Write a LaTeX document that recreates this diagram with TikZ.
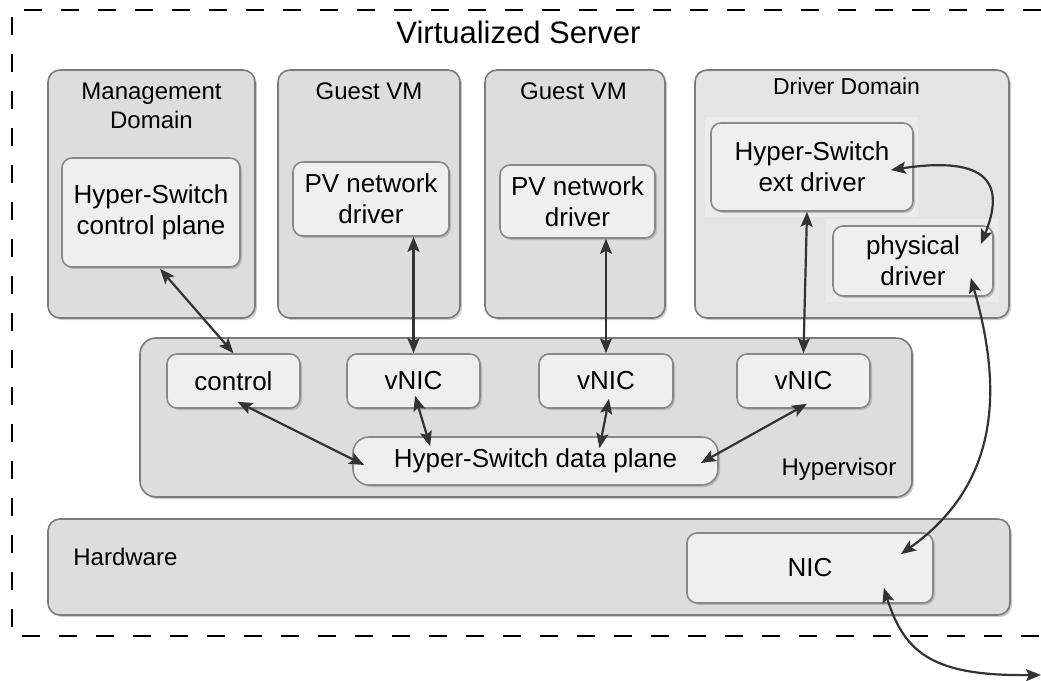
\documentclass[tikz,border=0pt]{standalone}
\usepackage{fontspec}
\setmainfont{Liberation Sans}
\usetikzlibrary{arrows.meta,shadows}

\definecolor{boxfill}{HTML}{DDDDDD}
\definecolor{drvfill}{HTML}{E4E4E4}
\definecolor{partfill}{HTML}{EFEFEF}
\definecolor{edge}{HTML}{7C7C7C}

\tikzset{
  vmbox/.style={draw=edge, line width=0.8pt, fill=boxfill, rounded corners=6pt, inner sep=0pt,
    drop shadow={shadow xshift=1pt, shadow yshift=-1pt, opacity=0.4}},
  modbox/.style={draw=edge!90, line width=0.8pt, fill=partfill, rounded corners=5pt, inner sep=0pt,
    align=center, font=\fontsize{13}{15.5}\selectfont,
    drop shadow={shadow xshift=1pt, shadow yshift=-1pt, opacity=0.4}},
  vmlabel/.style={inner sep=0pt, align=center, font=\fontsize{12}{14.5}\selectfont},
  link/.style={line width=1.1pt, draw=black!80,
    {Stealth[length=7.5pt,width=6pt,inset=1.5pt]}-{Stealth[length=7.5pt,width=6pt,inset=1.5pt]}},
  frame/.style={line width=1pt, dash pattern=on 9pt off 9.5pt}
}

\begin{document}
\begin{tikzpicture}[x=0.5pt, y=-0.5pt]
        \useasboundingbox (0,0) rectangle (1041,681);

        % Server frame
        \draw[frame] (1041,10) -| (12,636) -- (1041,636);
        \node[inner sep=0pt, font=\fontsize{15.5}{18}\selectfont, anchor=base] (server) at (518.5,43) {Virtualized Server};

        % Domains
        \node[vmbox, minimum width=103.5pt, minimum height=124pt] (mgmt) at (151.5,194) {};
        \node[vmbox, minimum width=91pt, minimum height=124pt] (guest1) at (369,194) {};
        \node[vmbox, minimum width=90pt, minimum height=124pt] (guest2) at (575,194) {};
        \node[vmbox, fill=drvfill, minimum width=157pt, minimum height=124pt] (drvdom) at (852,194) {};
        \fill[gray!16] (705,117) rectangle (918,217);
        \fill[gray!16] (826,219) rectangle (999,302);

        \node[vmlabel] (mgmtlbl) at (151.5,105.5) {Management\\Domain};
        \node[vmlabel, anchor=base] (guest1lbl) at (369,99) {Guest VM};
        \node[vmlabel, anchor=base] (guest2lbl) at (573.5,99) {Guest VM};
        \node[vmlabel, font=\fontsize{11.5}{14}\selectfont, anchor=base] (drvlbl) at (846.5,94) {Driver Domain};

        % Hypervisor and hardware
        \node[vmbox, rounded corners=8pt, minimum width=386pt, minimum height=79.5pt] (hyp) at (526,417.5) {};
        \node[vmbox, minimum width=481pt, minimum height=48pt] (hw) at (529,567) {};
        \node[vmlabel, anchor=base] (hyplbl) at (839,475) {Hypervisor};
        \node[vmlabel, anchor=base west] (hwlbl) at (73,565) {Hardware};

        % Modules
        \node[modbox, minimum width=89pt, minimum height=54.5pt] (cp) at (151,212.5) {Hyper-Switch\\control plane};
        \node[modbox, minimum width=78pt, minimum height=37pt] (pv1) at (371,199) {PV network\\driver};
        \node[modbox, minimum width=77.5pt, minimum height=36.5pt] (pv2) at (577.5,201.5) {PV network\\driver};
        \node[modbox, minimum width=101pt, minimum height=44pt] (ext) at (812,167) {Hyper-Switch\\ext driver};
        \node[modbox, minimum width=80pt, minimum height=35pt] (phys) at (913,261) {physical\\driver};

        \node[modbox, minimum width=66.5pt, minimum height=27pt] (ctl) at (233.5,381) {control};
        \node[modbox, minimum width=66.5pt, minimum height=27pt] (vnic1) at (413.5,381) {vNIC};
        \node[modbox, minimum width=67pt, minimum height=27pt] (vnic2) at (606,381) {vNIC};
        \node[modbox, minimum width=66.5pt, minimum height=27pt] (vnic3) at (803.5,381) {vNIC};
        \node[modbox, rounded corners=8pt, minimum width=182.5pt, minimum height=24pt] (dp) at (535.5,461) {Hyper-Switch data plane};
        \node[modbox, minimum width=123pt, minimum height=35pt] (nic) at (810,568) {NIC};

        \coordinate (uplink) at (1041,675);

        % Links
        \draw[link] ([xshift=4.5pt,yshift=-0.5pt]cp.south) -- (ctl.north);
        \draw[link] (vnic1.north |- pv1.south) -- (vnic1.north);
        \draw[link] (vnic2.north |- pv2.south) -- (vnic2.north);
        \draw[link] ([xshift=-2.5pt]ext.south) -- (vnic3.north);
        \draw[link] ([xshift=-11.5pt,yshift=-1.5pt]ext.east) .. controls (990,155) and (1005,185) .. ([xshift=-6.5pt,yshift=-9.5pt]phys.north east);
        \draw[link] ([xshift=-11.5pt,yshift=9.5pt]phys.south east) .. controls (1000,380) and (1005,480) .. ([xshift=-16.5pt,yshift=-11pt]nic.north east);
        \draw[link] ([xshift=-25pt,yshift=8pt]nic.south east) .. controls (905,655) and (935,676) .. (uplink);

        \draw[link] ([xshift=2pt,yshift=3.5pt]ctl.south) -- ([xshift=6pt,yshift=-2pt]dp.west);
        \draw[link] ([xshift=0.75pt,yshift=6.5pt]vnic1.south) -- ([xshift=39pt,yshift=-5pt]dp.north west);
        \draw[link] ([xshift=1.5pt,yshift=5pt]vnic2.south) -- ([xshift=32pt,yshift=-6pt]dp.north);
        \draw[link] ([xshift=1.75pt,yshift=2.5pt]vnic3.south) -- ([xshift=-9pt,yshift=-1pt]dp.east);

\end{tikzpicture}
\end{document}
